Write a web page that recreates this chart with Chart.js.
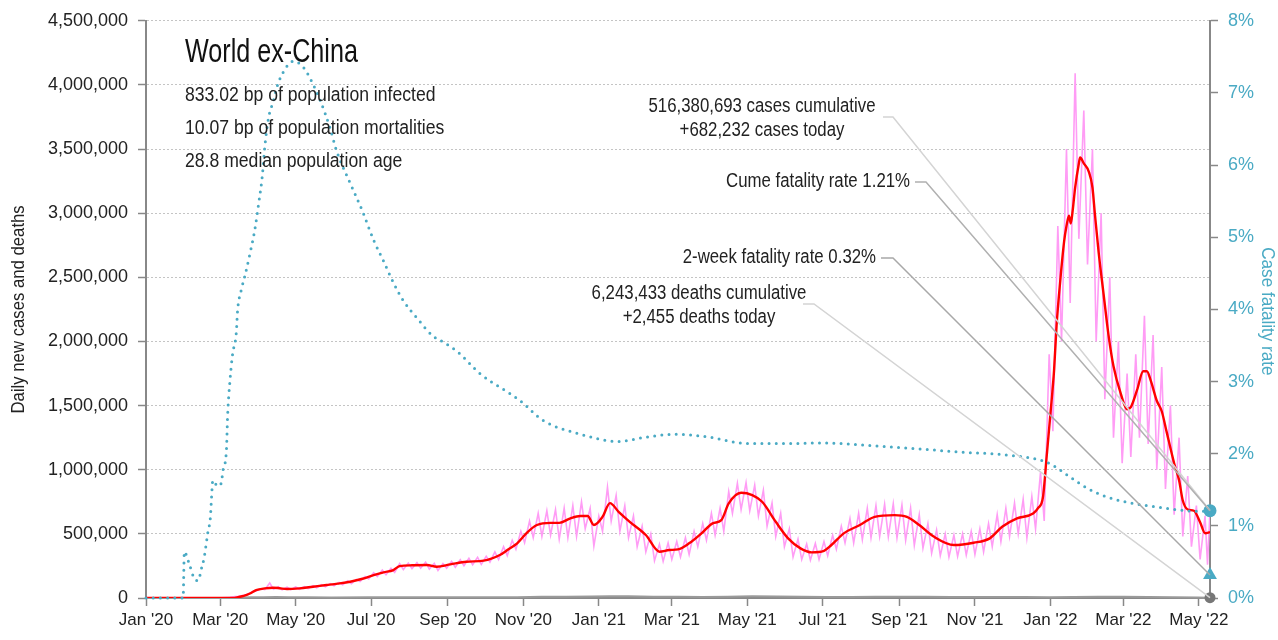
<!DOCTYPE html>
<html>
<head>
<meta charset="utf-8">
<script src="https://cdn.jsdelivr.net/npm/chart.js@4.4.1/dist/chart.umd.min.js"></script>
<style>
html,body{margin:0;padding:0;background:#fff;}
#wrap{width:1278px;height:640px;position:relative;}
</style>
</head>
<body>
<div id="wrap"><canvas id="c"></canvas></div>
<script>
// ---------- DATA (day index 0 = 1 Jan 2020) ----------
const lastDay = 860; // 10 May 2022

const tickDays   = [0, 60, 121, 182, 244, 305, 366, 425, 486, 547, 609, 670, 731, 790, 851];
const tickLabels = ["Jan '20","Mar '20","May '20","Jul '20","Sep '20","Nov '20","Jan '21","Mar '21","May '21","Jul '21","Sep '21","Nov '21","Jan '22","Mar '22","May '22"];

// 7-day average of daily new cases (red)
const avgDays  = [0,70,75,79,84,89,96,103,108,114,124,135,146,155,165,175,184,192,200,205,215,227,235,246,259,273,286,293,300,308,316,327,334,343,351,357,362,369,375,382,391,404,415,423,430,439,449,458,465,471,481,490,498,509,519,529,538,548,554,564,577,589,605,615,625,637,653,669,682,692,704,717,721,725,728,731,734,736,739,742,744,746,747.5,749,751,754,755,758,762,765,767,770,774,778,782,788,793,796,801,806,809,812,817,821,825,831,835,838,842,847,852,856,860];
const avgCases = [0,0,8000,16000,35000,62000,75000,80000,76000,70000,75000,88000,101000,112000,127000,150000,179000,200000,218000,249000,255000,257000,244000,262000,283000,291000,335000,380000,426000,510000,569000,586000,586000,621000,639000,639000,569000,633000,740000,672000,594000,491000,361000,374000,379000,426000,504000,582000,607000,737000,820000,802000,750000,594000,465000,387000,356000,368000,413000,504000,569000,633000,646000,633000,569000,477000,413000,431000,465000,555000,620000,659000,700000,787000,1106000,1433000,1780000,2126000,2477000,2773000,2900000,2980000,2920000,3020000,3200000,3388000,3434000,3388000,3325000,3200000,2990000,2695000,2368000,2048000,1807000,1589000,1472000,1488000,1620000,1768000,1768000,1698000,1538000,1456000,1293000,1051000,919000,760000,690000,680000,590000,505000,514000];

// daily new cases (pink): weekly lows and highs, week k = 8 .. 121
const firstWeek = 8;
const dailyLows = [
  2000,5000,13000,30000,55000,65000,68000,64000,66000,68000,
  74000,80000,88000,95000,104000,112000,128000,148000,168000,182000,
  200000,222000,228000,232000,225000,215000,232000,240000,252000,260000,
  262000,280000,300000,330000,380000,430000,470000,480000,490000,460000,
  470000,480000,540000,405000,520000,600000,520000,470000,400000,360000,
  290000,285000,300000,320000,340000,400000,450000,490000,520000,660000,
  690000,680000,640000,560000,480000,400000,320000,300000,295000,300000,
  330000,380000,430000,430000,455000,470000,480000,478000,470000,450000,
  410000,390000,350000,330000,320000,325000,335000,340000,360000,400000,
  440000,480000,500000,470000,540000,600000,1300000,2000000,2300000,2800000,
  2600000,2000000,1550000,1250000,1050000,1100000,1250000,1200000,1000000,850000,
  650000,480000,400000,300000];
const dailyHighs = [
  4000,11000,22000,48000,72000,117000,88000,84000,86000,88000,
  96000,104000,112000,122000,134000,145000,168000,198000,218000,232000,
  268000,272000,276000,280000,270000,268000,285000,298000,310000,318000,
  325000,360000,400000,450000,520000,600000,660000,680000,690000,700000,
  720000,750000,700000,640000,865000,800000,720000,640000,560000,500000,
  420000,430000,440000,470000,520000,580000,660000,700000,830000,895000,
  900000,880000,840000,740000,660000,540000,460000,420000,425000,440000,
  490000,560000,620000,660000,700000,720000,730000,735000,725000,700000,
  650000,580000,530000,500000,490000,500000,520000,540000,580000,650000,
  700000,740000,770000,790000,980000,1900000,2900000,3500000,4090000,3800000,
  3500000,3000000,2500000,2000000,1750000,1900000,2200000,2050000,1800000,1500000,
  1250000,950000,720000,640000];
const dailyTailDays   = [858, 860];
const dailyTailValues = [260000, 682232];

// daily deaths (grey, near zero)
const deathDays   = [0,55,65,75,85,95,105,115,130,150,180,210,240,270,300,320,340,360,375,390,410,430,450,470,480,490,510,530,550,570,590,610,630,650,680,710,730,750,770,790,810,830,850,860];
const deathValues = [0,0,100,1500,5000,6800,7000,6000,5000,4500,5200,5800,5500,5200,6500,8800,10500,11000,13500,13000,10500,8800,8600,10500,12500,13000,11500,9000,8000,7800,9500,10000,9500,7800,7000,7200,6800,7500,9500,9800,7500,5000,3000,2455];

// cumulative case fatality rate, % (dotted, right axis)
const cfrDays   = [0,30,31,35,39,42,45,47,50,52,53,54,58,61,62,65,66,68,70,73,74,77,80,84,88,91,94,96,99,103,106,111,119,127,133,141,149,154,165,175,184,192,200,208,219,232,240,252,270,302,321,349,382,404,429,455,487,519,545,589,637,660,691,723,733,745,761,777,798,814,830,852,860];
const cfrValues = [0,0,0.64,0.47,0.27,0.24,0.42,0.56,0.91,1.11,1.40,1.63,1.55,1.60,1.75,2.05,2.54,3.04,3.38,3.68,3.98,4.27,4.47,4.77,5.11,5.46,5.85,6.25,6.65,6.89,7.09,7.29,7.44,7.36,7.19,6.89,6.50,6.20,5.75,5.36,4.96,4.67,4.37,4.12,3.88,3.63,3.55,3.41,3.11,2.74,2.46,2.28,2.17,2.23,2.27,2.23,2.14,2.14,2.15,2.11,2.05,2.02,1.99,1.91,1.84,1.70,1.52,1.40,1.31,1.27,1.23,1.20,1.21];

// headline figures
const regionName = "World ex-China";
const bpInfected = "833.02";
const bpMortalities = "10.07";
const medianAge = "28.8";
const casesCumulative = 516380693;
const casesToday = 682232;
const deathsCumulative = 6243433;
const deathsToday = 2455;
const cumeFatalityRate = 1.21;
const twoWeekFatalityRate = 0.32;
const leftAxisTitle = 'Daily new cases and deaths';
const rightAxisTitle = 'Case fatality rate';

// ---------- BUILD ----------
const FONT = "'Liberation Sans', Arial, sans-serif";
const TEAL = '#4aaac4';
const fmt = n => n.toLocaleString('en-US');

const pinkPoints = [{x:0,y:0},{x:57,y:0}];
dailyLows.forEach((v,i)=>{
  const k = firstWeek + i;
  pinkPoints.push({x:7*k+5, y:v});
  pinkPoints.push({x:7*k+9, y:dailyHighs[i]});
});
dailyTailDays.forEach((d,i)=>pinkPoints.push({x:d,y:dailyTailValues[i]}));
const avgPoints = avgDays.map((d,i)=>({x:d,y:avgCases[i]}));
const deathPoints = deathDays.map((d,i)=>({x:d,y:deathValues[i]}));
const cfrPoints = cfrDays.map((d,i)=>({x:d,y:cfrValues[i]}));

Chart.defaults.font.family = FONT;
Chart.defaults.color = '#222';

function drawText(ctx, text, x, y, size, sx, align, color, rot) {
  ctx.save();
  ctx.font = `${size}px ${FONT}`;
  ctx.fillStyle = color;
  ctx.textBaseline = 'middle';
  ctx.textAlign = align;
  ctx.translate(x, y);
  if (rot) ctx.rotate(rot);
  ctx.scale(sx, 1);
  ctx.fillText(text, 0, 0);
  ctx.restore();
}

const annot = {
  id:'annot',
  afterDatasetsDraw(chart){
    const {ctx, chartArea, scales:{x,y,y1}} = chart;
    const xe = x.getPixelForValue(lastDay);
    // leader lines
    const leader = (x0,y0,xc,x1,y1p,color) => {
      ctx.save();
      ctx.strokeStyle = color; ctx.lineWidth = 1.5;
      ctx.beginPath(); ctx.moveTo(x0,y0); ctx.lineTo(xc,y0); ctx.lineTo(x1,y1p); ctx.stroke();
      ctx.restore();
    };
    leader(883,117,893, xe, y.getPixelForValue(casesToday), '#d4d4d4');
    leader(915,182,926, xe, y1.getPixelForValue(cumeFatalityRate), '#b0b0b0');
    leader(881,258,893, xe, y1.getPixelForValue(twoWeekFatalityRate), '#a8a8a8');
    leader(803,304,814, xe, y.getPixelForValue(deathsToday), '#d4d4d4');

    // title block
    drawText(ctx, regionName, 185, 53, 34, 0.74, 'left', '#111');
    drawText(ctx, `${bpInfected} bp of population infected`, 185, 95, 20, 0.88, 'left', '#222');
    drawText(ctx, `${bpMortalities} bp of population mortalities`, 185, 128, 20, 0.88, 'left', '#222');
    drawText(ctx, `${medianAge} median population age`, 185, 161, 20, 0.88, 'left', '#222');

    // annotation texts
    drawText(ctx, `${fmt(casesCumulative)} cases cumulative`, 762, 106, 20, 0.84, 'center', '#222');
    drawText(ctx, `+${fmt(casesToday)} cases today`, 762, 130, 20, 0.84, 'center', '#222');
    drawText(ctx, `Cume fatality rate ${cumeFatalityRate.toFixed(2)}%`, 910, 181, 20, 0.84, 'right', '#222');
    drawText(ctx, `2-week fatality rate ${twoWeekFatalityRate.toFixed(2)}%`, 876, 257, 20, 0.84, 'right', '#222');
    drawText(ctx, `${fmt(deathsCumulative)} deaths cumulative`, 699, 293, 20, 0.84, 'center', '#222');
    drawText(ctx, `+${fmt(deathsToday)} deaths today`, 699, 317, 20, 0.84, 'center', '#222');

    // axis titles
    const cy = (chartArea.top + chartArea.bottom) / 2;
    drawText(ctx, leftAxisTitle, 19, cy, 19, 0.88, 'center', '#222', -Math.PI/2);
    drawText(ctx, rightAxisTitle, 1267, cy + 2, 19, 0.9, 'center', TEAL, Math.PI/2);
  }
};

const lastIdx = arr => (ctx => ctx.dataIndex === arr.length - 1);

new Chart(document.getElementById('c'), {
  type: 'line',
  data: {
    datasets: [
      { // 2-week fatality rate marker
        data: [{x:lastDay, y:twoWeekFatalityRate}], yAxisID:'y1',
        showLine:false, pointStyle:'triangle', pointRadius:8, pointBackgroundColor:TEAL,
        pointBorderWidth:0, clip:false
      },
      { // CFR dotted
        data: cfrPoints, yAxisID:'y1',
        borderColor: TEAL, borderWidth: 3, borderDash:[0,7.2], borderCapStyle:'round',
        cubicInterpolationMode:'monotone',
        pointRadius: ctx => lastIdx(cfrPoints)(ctx) ? 6.5 : 0,
        pointBackgroundColor: TEAL, pointBorderWidth:0, clip:false
      },
      { // 7-day avg
        data: avgPoints, yAxisID:'y',
        borderColor:'#ff0000', borderWidth:2.4, pointRadius:0,
        cubicInterpolationMode:'monotone'
      },
      { // daily cases
        data: pinkPoints, yAxisID:'y',
        borderColor:'#ff9cf5', borderWidth:1.6, pointRadius:0, tension:0
      },
      { // deaths
        data: deathPoints, yAxisID:'y',
        borderColor:'#9a9a9a', borderWidth:2, pointRadius: ctx => lastIdx(deathPoints)(ctx) ? 5.5 : 0,
        pointBackgroundColor:'#777', pointBorderWidth:0, clip:false
      }
    ]
  },
  options: {
    responsive:true, maintainAspectRatio:false, animation:false,
    layout:{padding:{top:20,left:0,right:0,bottom:0}},
    plugins:{legend:{display:false}, tooltip:{enabled:false}},
    scales:{
      x:{
        type:'linear', min:0, max:lastDay,
        afterBuildTicks: s => { s.ticks = tickDays.map(v=>({value:v})); },
        afterFit: s => { s.height = 42; },
        ticks:{ autoSkip:false, maxRotation:0, padding:4, font:{size:17}, color:'#222',
                callback:(v)=>{ const i = tickDays.indexOf(v); return i>=0 ? tickLabels[i] : ''; } },
        grid:{ drawOnChartArea:false, drawTicks:true, tickLength:8, tickColor:'#888', tickWidth:1.5 },
        border:{ color:'#888', width:2 }
      },
      y:{
        position:'left', min:0, max:4500000,
        afterFit: s => { s.width = 146; },
        ticks:{ stepSize:500000, padding:10, font:{size:18}, color:'#222', callback: v => fmt(v) },
        grid:{ color:'#c4c4c4', lineWidth:1, tickLength:8, tickColor:'#888', tickWidth:1.5, tickBorderDash:[] },
        border:{ color:'#888', width:2, dash:[2,2] }
      },
      y1:{
        position:'right', min:0, max:8,
        afterFit: s => { s.width = 68; },
        ticks:{ stepSize:1, padding:10, font:{size:18}, color:TEAL, callback: v => v + '%' },
        grid:{ drawOnChartArea:false, tickLength:8, tickColor:'#888', tickWidth:1.5 },
        border:{ color:'#888', width:2 }
      }
    }
  },
  plugins:[annot]
});
</script>
</body>
</html>
